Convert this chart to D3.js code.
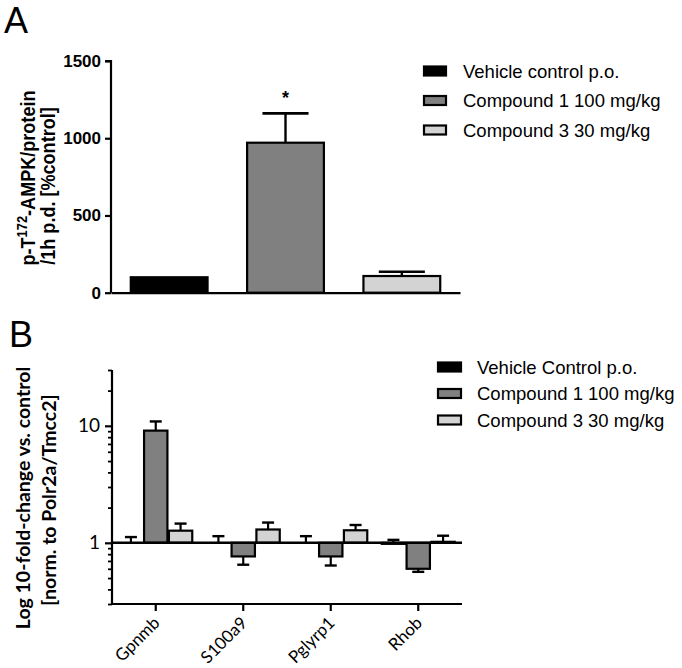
<!DOCTYPE html>
<html><head><meta charset="utf-8">
<script src="https://cdn.jsdelivr.net/npm/d3@7"></script>
<style>body{margin:0;background:#fff}</style>
</head><body>
<script>
// ---------- Data ----------
const groupsA = ["Vehicle control p.o.", "Compound 1 100 mg/kg", "Compound 3 30 mg/kg"];
const valuesA = [100, 971, 108];
const errTopA = [100, 1161, 136];
const ticksA = [0, 500, 1000, 1500];

const seriesB = ["Vehicle Control p.o.", "Compound 1 100 mg/kg", "Compound 3 30 mg/kg"];
const genes = ["Gpnmb", "S100a9", "Pglyrp1", "Rhob"];
const vehicleB = [1.0, 1.0, 1.0, 0.98];
const vehicleErrB = [1.12, 1.14, 1.14, 1.06];
const comp1B = [9.1, 0.765, 0.765, 0.60];
const comp1ErrB = [10.9, 0.65, 0.64, 0.565];
const comp3B = [1.27, 1.30, 1.28, 1.02];
const comp3ErrB = [1.46, 1.49, 1.42, 1.15];
const majorTicksB = [1, 10];
const minorTicksB = [0.3,0.4,0.5,0.6,0.7,0.8,0.9,2,3,4,5,6,7,8,9,20,30];

const colors = ["#000000", "#808080", "#d3d3d3"];

const svg = d3.select("body").append("svg").attr("width", 682).attr("height", 668);
const ARIAL = "'Liberation Sans', Arial, sans-serif";
const HUM = "Lato, 'Open Sans', sans-serif";

// ---------- Panel A ----------
svg.append("text").attr("x", 4).attr("y", 33).attr("font-family", ARIAL).attr("font-size", 36).text("A");

const xA = d3.scaleBand().domain(groupsA).range([111, 460]).paddingInner(0.34).paddingOuter(0.17);
const yA = d3.scaleLinear().domain([0, 1500]).range([292.7, 61]);

const gA = svg.append("g");
gA.selectAll("rect.bar").data(groupsA).join("rect")
  .attr("x", d => xA(d)).attr("width", xA.bandwidth())
  .attr("y", (d, i) => yA(valuesA[i])).attr("height", (d, i) => yA(0) - yA(valuesA[i]))
  .attr("fill", (d, i) => colors[i]).attr("stroke", "#000").attr("stroke-width", 2.2);

groupsA.forEach((d, i) => {
  if (errTopA[i] <= valuesA[i]) return;
  const cx = xA(d) + xA.bandwidth() / 2;
  const cw = xA.bandwidth() * 0.3;
  gA.append("line").attr("x1", cx).attr("x2", cx).attr("y1", yA(valuesA[i])).attr("y2", yA(errTopA[i]))
    .attr("stroke", "#000").attr("stroke-width", 2.4);
  gA.append("line").attr("x1", cx - cw).attr("x2", cx + cw).attr("y1", yA(errTopA[i])).attr("y2", yA(errTopA[i]))
    .attr("stroke", "#000").attr("stroke-width", 2.6);
});
gA.append("text").attr("x", xA(groupsA[1]) + xA.bandwidth() / 2).attr("y", yA(errTopA[1]) - 9)
  .attr("text-anchor", "middle").attr("font-family", ARIAL).attr("font-weight", "bold").attr("font-size", 18).text("*");

const axA = d3.axisLeft(yA).tickValues(ticksA).tickSize(6).tickPadding(4).tickFormat(d3.format("d"));
const gAx = svg.append("g").attr("transform", "translate(111,0)").call(axA);
gAx.select(".domain").attr("stroke-width", 2.2).attr("d", `M-6,${yA(1500)}H0V${yA(0)}`);
gAx.selectAll(".tick line").attr("stroke-width", 2.2);
gAx.selectAll(".tick text").attr("font-family", ARIAL).attr("font-weight", "bold").attr("font-size", 17).attr("fill", "#000");
const gAxx = svg.append("g").attr("transform", `translate(0,${yA(0)})`).call(d3.axisBottom(xA).tickSize(0).tickFormat(""));
gAxx.select(".domain").attr("stroke-width", 2.2);

// y title A (condensed look via horizontal scale)
const tA1 = svg.append("text").attr("transform", "translate(35,178) rotate(-90) scale(0.86,1)").attr("text-anchor", "middle")
  .attr("font-family", ARIAL).attr("font-weight", "bold").attr("font-size", 21);
tA1.append("tspan").text("p-T");
tA1.append("tspan").attr("font-size", 15).attr("dy", -8).text("172");
tA1.append("tspan").attr("dy", 8).text("-AMPK/protein");
svg.append("text").attr("transform", "translate(55,186) rotate(-90) scale(0.86,1)").attr("text-anchor", "middle")
  .attr("font-family", ARIAL).attr("font-weight", "bold").attr("font-size", 21).text("/1h p.d. [%control]");

// legend A
const legA = svg.append("g");
groupsA.forEach((d, i) => {
  const cy = 71 + i * 29.5;
  legA.append("rect").attr("x", 424).attr("y", cy - 4.5).attr("width", 22).attr("height", 9)
    .attr("fill", colors[i]).attr("stroke", "#000").attr("stroke-width", 2.2);
  legA.append("text").attr("x", 463).attr("y", cy + 6.5).attr("font-family", ARIAL).attr("font-size", 18.5).text(d);
});

// ---------- Panel B ----------
svg.append("text").attr("x", 9).attr("y", 347).attr("font-family", ARIAL).attr("font-size", 36).text("B");

const x0 = d3.scaleBand().domain(genes).range([112, 462]);
const x1 = d3.scaleBand().domain(seriesB).range([-36.5, 36.5]).paddingInner(0.06);
const yB = d3.scaleLog().domain([0.3, 30]).range([604, 370]);

const seriesVals = [vehicleB, comp1B, comp3B];
const seriesErr = [vehicleErrB, comp1ErrB, comp3ErrB];
const gB = svg.append("g");
genes.forEach((g, gi) => {
  const cx0 = x0(g) + x0.bandwidth() / 2;
  seriesB.forEach((s, si) => {
    const v = seriesVals[si][gi], e = seriesErr[si][gi];
    const bx = cx0 + x1(s);
    const bw = x1.bandwidth();
    const yv = yB(v), y1 = yB(1);
    const cx = bx + bw / 2;
    gB.append("line").attr("x1", cx).attr("x2", cx).attr("y1", yB(Math.abs(Math.log(e)) > Math.abs(Math.log(v)) ? v : 1)).attr("y2", yB(e))
      .attr("stroke", "#000").attr("stroke-width", 2.2);
    gB.append("line").attr("x1", cx - 6).attr("x2", cx + 6).attr("y1", yB(e)).attr("y2", yB(e))
      .attr("stroke", "#000").attr("stroke-width", 2.4);
    gB.append("rect").attr("x", bx).attr("width", bw)
      .attr("y", Math.min(yv, y1)).attr("height", Math.abs(yv - y1))
      .attr("fill", colors[si]).attr("stroke", "#000").attr("stroke-width", 2.2);
  });
});
svg.append("line").attr("x1", 112).attr("x2", 462).attr("y1", yB(1)).attr("y2", yB(1))
  .attr("stroke", "#000").attr("stroke-width", 2.4);

const gBy = svg.append("g").attr("transform", "translate(112,0)");
gBy.call(d3.axisLeft(yB).tickValues(majorTicksB).tickSize(7).tickPadding(5).tickFormat(d3.format("d")));
gBy.select(".domain").attr("stroke-width", 2.2).attr("d", `M0,${yB(30)}V${yB(0.3)}`);
gBy.selectAll(".tick line").attr("stroke-width", 2.2);
gBy.selectAll(".tick text").attr("font-family", HUM).attr("font-size", 19).attr("fill", "#000");
const gBm = svg.append("g").attr("transform", "translate(112,0)");
gBm.call(d3.axisLeft(yB).tickValues(minorTicksB).tickSize(4).tickFormat(""));
gBm.select(".domain").remove();
gBm.selectAll(".tick line").attr("stroke-width", 1.8);

const gBx = svg.append("g").attr("transform", `translate(0,${yB(0.3)})`);
gBx.call(d3.axisBottom(x0).tickSize(7).tickPadding(4));
gBx.select(".domain").attr("stroke-width", 2.2).attr("d", `M112,0H462`);
gBx.selectAll(".tick line").attr("stroke-width", 2.2);
gBx.selectAll(".tick text").attr("font-family", HUM).attr("font-size", 17).attr("fill", "#000")
  .attr("text-anchor", "end").attr("x", 0).attr("y", 0).attr("dy", 0)
  .attr("transform", "translate(5,20) rotate(-45)");

svg.append("text").attr("transform", "translate(30,498) rotate(-90)").attr("text-anchor", "middle")
  .attr("font-family", HUM).attr("font-weight", "bold").attr("font-size", 19.5).text("Log 10-fold-change vs. control");
svg.append("text").attr("transform", "translate(56,500) rotate(-90)").attr("text-anchor", "middle")
  .attr("font-family", HUM).attr("font-weight", "bold").attr("font-size", 19.5).text("[norm. to Polr2a/Tmcc2]");

const legB = svg.append("g");
seriesB.forEach((d, i) => {
  const cy = 367 + i * 26.5;
  legB.append("rect").attr("x", 438).attr("y", cy - 4.5).attr("width", 23).attr("height", 9)
    .attr("fill", colors[i]).attr("stroke", "#000").attr("stroke-width", 2.2);
  legB.append("text").attr("x", 477).attr("y", cy + 6.5).attr("font-family", ARIAL).attr("font-size", 18.5).text(d);
});
</script>
</body></html>
